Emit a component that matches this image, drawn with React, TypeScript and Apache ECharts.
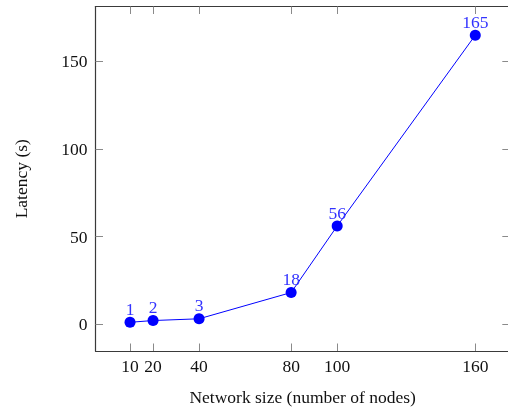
import React, { useEffect, useRef } from "react";
import * as echarts from "echarts";

const nodes = [10, 20, 40, 80, 100, 160];
const latency = [1, 2, 3, 18, 56, 165];
const xTicks = [10, 20, 40, 80, 100, 160];
const yTicks = [0, 50, 100, 150];

const FONT = "'Liberation Serif', 'Times New Roman', serif";

export default function App() {
  const ref = useRef<HTMLDivElement>(null);
  useEffect(() => {
    if (!ref.current) return;
    document.body.style.margin = "0";
    const chart = echarts.init(ref.current, null, { renderer: "svg" });
    const axisLine = { show: true, onZero: false, lineStyle: { color: "#3a3a3a", width: 1.2 } };
    const tickStyle = { color: "#8a8a8a", width: 1 };
    const xMin = -5, xMax = 175, yMin = -15.4, yMax = 181.4;
    chart.setOption({
      animation: false,
      textStyle: { fontFamily: FONT },
      grid: {
        left: 95.5, top: 6.5, width: 414.3, height: 344.5,
        containLabel: false, outerBoundsMode: "none",
      },
      xAxis: [
        {
          type: "value", min: xMin, max: xMax, position: "bottom",
          name: "Network size (number of nodes)", nameLocation: "middle", nameGap: 37,
          nameTextStyle: { fontFamily: FONT, fontSize: 17.5, color: "#111" },
          axisLine, splitLine: { show: false },
          axisTick: { show: true, inside: true, length: 7.5, lineStyle: tickStyle, customValues: xTicks },
          axisLabel: { fontFamily: FONT, fontSize: 17.5, color: "#111", margin: 6, customValues: xTicks },
        },
        {
          type: "value", min: xMin, max: xMax, position: "top",
          axisLine, splitLine: { show: false },
          axisTick: { show: true, inside: true, length: 7.5, lineStyle: tickStyle, customValues: xTicks },
          axisLabel: { show: false },
        },
      ],
      yAxis: [
        {
          type: "value", min: yMin, max: yMax, position: "left",
          name: "Latency (s)", nameLocation: "middle", nameGap: 66, nameRotate: 90,
          nameTextStyle: { fontFamily: FONT, fontSize: 17.5, color: "#111" },
          axisLine, splitLine: { show: false },
          axisTick: { show: true, inside: true, length: 7.5, lineStyle: tickStyle, customValues: yTicks },
          axisLabel: { fontFamily: FONT, fontSize: 17.5, color: "#111", margin: 8, customValues: yTicks },
        },
        {
          type: "value", min: yMin, max: yMax, position: "right",
          axisLine, splitLine: { show: false },
          axisTick: { show: true, inside: true, length: 7.5, lineStyle: tickStyle, customValues: yTicks },
          axisLabel: { show: false },
        },
      ],
      series: [
        {
          type: "line",
          xAxisIndex: 0, yAxisIndex: 0,
          data: nodes.map((n, i) => [n, latency[i]]),
          symbol: "circle", symbolSize: 11,
          lineStyle: { color: "#0000ff", width: 1 },
          itemStyle: { color: "#0000ff" },
          label: {
            show: true, position: "top", distance: -1,
            fontFamily: FONT, fontSize: 17.5, color: "#3333ff",
            formatter: (p: any) => String(p.value[1]),
          },
        },
      ],
    });
    return () => chart.dispose();
  }, []);
  return (
    <div
      ref={ref}
      style={{ position: "fixed", left: 0, top: 0, width: 508, height: 408, overflow: "hidden" }}
    />
  );
}
